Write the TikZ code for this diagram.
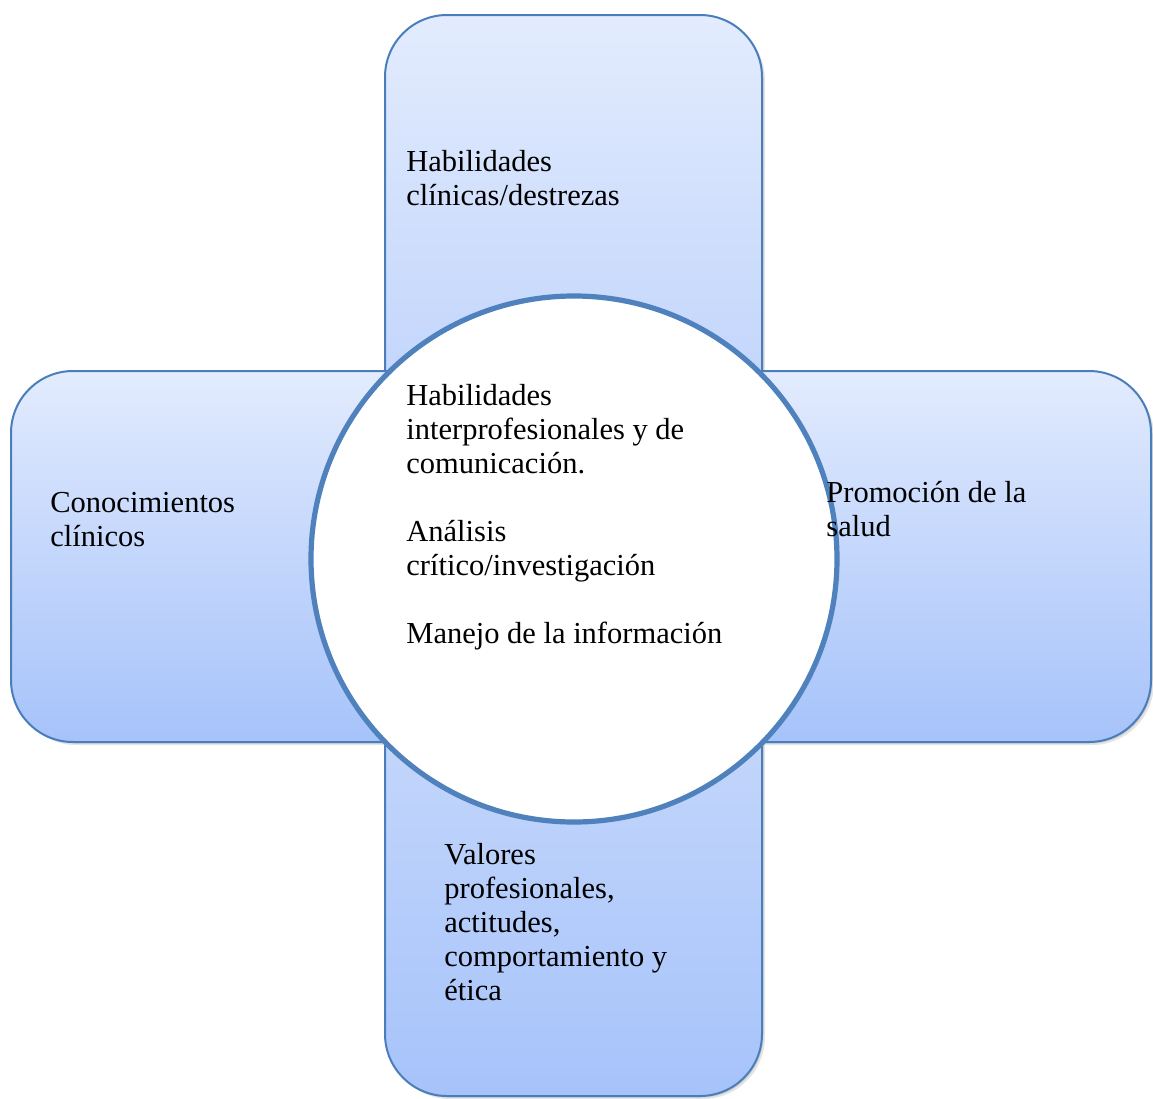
\documentclass[tikz,border=0pt]{standalone}
\usepackage{fontspec}
\setmainfont{Liberation Serif}
\definecolor{cLight}{HTML}{E3ECFE}
\definecolor{cMid}{HTML}{CCDCFC}
\definecolor{cDark}{HTML}{A6C3FA}
\definecolor{cEdge}{HTML}{4A7EBB}
\definecolor{cRing}{HTML}{4F81BD}
\pgfdeclareverticalshading{crossshade}{100bp}{color(0bp)=(cDark); color(25bp)=(cDark); color(57.5bp)=(cMid); color(75bp)=(cLight); color(100bp)=(cLight)}
\begin{document}
\begin{tikzpicture}[x=0.5pt,y=-0.5pt,
  armbox/.style={shading=crossshade, draw=cEdge, line width=1pt, rounded corners=31pt},
  armshadow/.style={fill=black, fill opacity=0.10, rounded corners=31pt},
  lbl/.style={anchor=base west, inner sep=0pt, font=\fontsize{15.25}{17}\selectfont}]
\useasboundingbox (0,0) rectangle (1153,1099);
% shadows
\foreach \s in {1.5,3} {
  \fill[armshadow, shift={(\s,\s)}] (385,15) rectangle (762,742);
  \fill[armshadow, shift={(\s,\s)}] (385,371) rectangle (762,1096);
  \fill[armshadow, shift={(\s,\s)}] (11,371) rectangle (560,742);
  \fill[armshadow, shift={(\s,\s)}] (590,371) rectangle (1151,742);
}
% arms
\path[armbox] (385,15) rectangle (762,742);
\path[armbox] (385,371) rectangle (762,1096);
\path[armbox] (11,371) rectangle (560,742);
\path[armbox] (590,371) rectangle (1151,742);
% central circle
\node[circle, draw=cRing, fill=white, line width=2.6pt, minimum size=263pt, inner sep=0pt] (hub) at (574,559) {};
% texts
\node[lbl] (ttop) at (406,171) {\begin{tabular}[t]{@{}l@{}}Habilidades\\ clínicas/destrezas\end{tabular}};
\node[lbl] (tleft) at (50,512) {\begin{tabular}[t]{@{}l@{}}Conocimientos\\ clínicos\end{tabular}};
\node[lbl] (tright) at (826,502) {\begin{tabular}[t]{@{}l@{}}Promoción de la\\ salud\end{tabular}};
\node[lbl] (tbottom) at (444,864) {\begin{tabular}[t]{@{}l@{}}Valores\\ profesionales,\\ actitudes,\\ comportamiento y\\ ética\end{tabular}};
\node[lbl] (thub) at (406,405) {\begin{tabular}[t]{@{}l@{}}Habilidades\\ interprofesionales y de\\ comunicación.\\ \\ Análisis\\ crítico/investigación\\ \\ Manejo de la información\end{tabular}};
\end{tikzpicture}
\end{document}
